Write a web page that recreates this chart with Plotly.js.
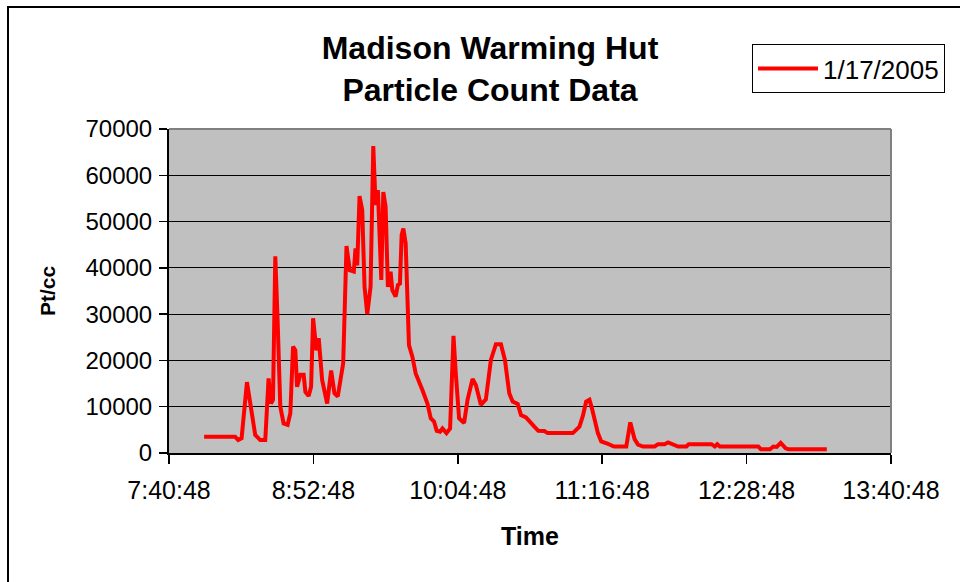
<!DOCTYPE html>
<html>
<head>
<meta charset="utf-8">
<script src="https://cdn.plot.ly/plotly-3.0.1.min.js"></script>
<style>
  html, body { margin: 0; padding: 0; background: #ffffff; }
  #chart { width: 960px; height: 582px; }
</style>
</head>
<body>
<div id="chart"></div>
<script>
// ---- data ----
const sampleDate = "2005-01-17";
const times = [
  "07:58:18","08:13:48","08:15:18","08:17:00","08:19:40","08:22:09","08:23:48","08:26:18",
  "08:28:48","08:30:27","08:31:39","08:32:39","08:33:48","08:34:57","08:36:18","08:37:57",
  "08:39:57","08:41:18","08:42:39","08:43:48","08:44:39","08:46:18","08:47:57","08:48:48",
  "08:50:27","08:51:39","08:52:39","08:54:18","08:55:27","08:57:09","08:59:39","09:01:39",
  "09:03:18","09:04:57","09:07:39","09:09:18","09:10:57","09:12:57","09:13:48","09:14:39",
  "09:15:48","09:17:09","09:18:18","09:19:39","09:21:18","09:22:39","09:23:48","09:24:57",
  "09:26:39","09:27:39","09:28:48","09:29:57","09:31:18","09:32:09","09:33:48","09:34:57",
  "09:35:57","09:36:48","09:37:39","09:38:48","09:40:27","09:42:09","09:43:48","09:47:09",
  "09:49:39","09:51:18","09:52:57","09:54:18","09:55:57","09:57:09","09:59:09","10:00:57",
  "10:02:39","10:03:48","10:05:27","10:07:57","10:09:39","10:12:09","10:13:48","10:16:18",
  "10:18:48","10:21:18","10:23:48","10:26:18","10:28:18","10:30:27","10:32:09","10:34:39",
  "10:36:18","10:38:48","10:40:27","10:42:57","10:44:57","10:47:57","10:49:39","11:02:09",
  "11:05:27","11:07:09","11:08:48","11:10:27","11:11:39","11:13:18","11:14:39","11:16:18",
  "11:17:57","11:19:39","11:22:09","11:22:57","11:28:48","11:30:48","11:32:57","11:34:39",
  "11:37:09","11:42:57","11:44:39","11:47:57","11:49:39","11:52:09","11:54:39","11:58:48",
  "11:59:57","12:11:18","12:12:57","12:14:09","12:15:27","12:34:39","12:35:57","12:40:27",
  "12:42:09","12:43:48","12:45:48","12:48:18","12:49:39","13:08:48"
];
const counts = [
  3500, 3500, 2800, 3200, 15300, 8600, 3900, 2800,
  2800, 16100, 10700, 11500, 42500, 28700, 10000, 6400,
  6100, 8600, 23000, 22200, 14300, 16900, 16900, 13200,
  12300, 14300, 29100, 22200, 24800, 15800, 10700, 17800,
  12900, 12200, 19400, 44700, 39500, 39200, 44200, 40500,
  55500, 52500, 35900, 30000, 35900, 66300, 53600, 56800,
  37400, 56400, 53200, 35900, 39200, 35200, 33800, 36300,
  36600, 47100, 48500, 45300, 23300, 20800, 17200, 13600,
  10700, 7500, 6800, 4800, 4600, 5300, 4300, 5300,
  25300, 17200, 7500, 6500, 11500, 16000, 14700, 10400,
  11600, 20100, 23500, 23500, 20100, 12900, 11100, 10600,
  8200, 7700, 6800, 5700, 4800, 4750, 4300, 4300,
  5700, 8000, 11100, 11500, 9700, 6400, 4300, 2500,
  2300, 2000, 1500, 1400, 1400, 6600, 3000, 1800,
  1400, 1400, 1900, 1900, 2300, 1900, 1400, 1400,
  1900, 1900, 1400, 1900, 1400, 1400, 800, 800,
  1400, 1300, 2200, 1000, 800, 800
];
const seriesName = "1/17/2005";
const tickTimes = ["07:40:48","08:52:48","10:04:48","11:16:48","12:28:48","13:40:48"];
const tickLabels = ["7:40:48","8:52:48","10:04:48","11:16:48","12:28:48","13:40:48"];
const yTicks = [0, 10000, 20000, 30000, 40000, 50000, 60000, 70000];
const chartTitle = "Madison Warming Hut<br>Particle Count Data";
const xTitle = "Time";
const yTitle = "Pt/cc";

// ---- build ----
const toStamp = t => sampleDate + " " + t;
const FONT = "Liberation Sans, Arial, sans-serif";

const trace = {
  type: "scatter",
  mode: "lines",
  name: seriesName,
  x: times.map(toStamp),
  y: counts,
  line: { color: "#FF0000", width: 4 },
  showlegend: true
};

const layout = {
  width: 960,
  height: 582,
  margin: { l: 169, r: 69, t: 129, b: 129, pad: 0 },
  paper_bgcolor: "#FFFFFF",
  plot_bgcolor: "#C0C0C0",
  font: { family: FONT, color: "#000000", size: 24 },
  title: {
    text: chartTitle,
    font: { family: FONT, size: 32, color: "#000000", weight: "bold" },
    x: 490 / 960, xref: "container", xanchor: "center",
    y: 1 - 59 / 582, yref: "container", yanchor: "top"
  },
  showlegend: true,
  legend: {
    x: (752 - 169) / 722, y: (453 - 44) / 324,
    xanchor: "left", yanchor: "top",
    bgcolor: "#FFFFFF", bordercolor: "#000000", borderwidth: 1,
    itemwidth: 60,
    entrywidth: 206, entrywidthmode: "pixels",
    font: { family: FONT, size: 26, color: "#000000" }
  },
  xaxis: {
    type: "date",
    range: [toStamp(tickTimes[0]), toStamp(tickTimes[tickTimes.length - 1])],
    tickmode: "array",
    tickvals: tickTimes.map(toStamp),
    ticktext: tickLabels,
    ticks: "outside", ticklen: 9, tickwidth: 1.5, tickcolor: "#000000",
    ticklabelstandoff: 5,
    showline: true, linecolor: "#000000", linewidth: 2,
    showgrid: false, zeroline: false,
    tickfont: { family: FONT, size: 25, color: "#000000" },
    title: { text: xTitle, font: { family: FONT, size: 25, weight: "bold" }, standoff: 24 }
  },
  yaxis: {
    range: [0, 70000],
    tickmode: "array",
    tickvals: yTicks,
    ticktext: yTicks.map(String),
    ticks: "outside", ticklen: 8, tickwidth: 1.5, tickcolor: "#000000",
    ticklabelstandoff: 2,
    showline: true, linecolor: "#000000", linewidth: 2,
    showgrid: true, gridcolor: "#000000", gridwidth: 1,
    zeroline: false,
    tickfont: { family: FONT, size: 24, color: "#000000" },
    title: { text: yTitle, font: { family: FONT, size: 21, weight: "bold" }, standoff: 24 }
  },
  shapes: [
    { type: "line", xref: "paper", yref: "paper", x0: 0, x1: 1, y0: 1, y1: 1,
      line: { color: "#808080", width: 2 } },
    { type: "line", xref: "paper", yref: "paper", x0: 1, x1: 1, y0: 0, y1: 1,
      line: { color: "#808080", width: 2 } },
    { type: "rect", xref: "paper", yref: "paper",
      x0: (8 - 169) / 722, x1: (975 - 169) / 722,
      y0: (453 - 600) / 324, y1: (453 - 7) / 324,
      line: { color: "#000000", width: 2 }, fillcolor: "rgba(0,0,0,0)", layer: "below" }
  ]
};

Plotly.newPlot("chart", [trace], layout, { staticPlot: true, displayModeBar: false });
</script>
</body>
</html>
